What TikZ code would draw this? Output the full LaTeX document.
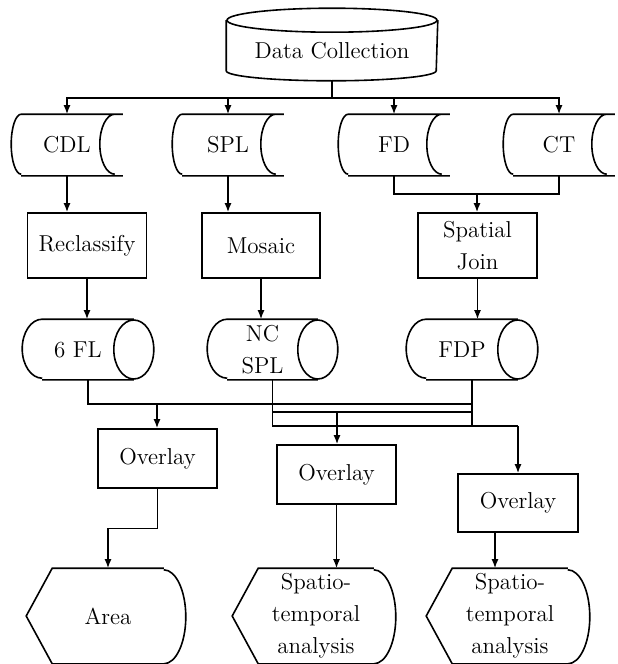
\documentclass[tikz,border=0pt]{standalone}
\usetikzlibrary{arrows.meta}
\usetikzlibrary{calc}

\begin{document}
\begin{tikzpicture}[x=0.5pt,y=0.5pt,line width=0.8pt,
	>={Latex[length=4.5pt,width=3.5pt]},
	every node/.style={font=\fontsize{11.5}{16}\selectfont, align=center, inner sep=0pt},
	stored/.style={rectangle, minimum width=55pt, minimum height=30pt},
	procbox/.style={rectangle, draw, minimum width=59.5pt, minimum height=32.5pt},
	drum/.style={rectangle, minimum width=55pt, minimum height=29.5pt},
	overlaybox/.style={rectangle, draw, minimum width=59.5pt, minimum height=29.5pt},
	result/.style={rectangle, minimum width=57pt, minimum height=47pt}]

	\useasboundingbox (0,0) rectangle (617,-664);

	\def\rxDrum{10pt} %end radius of the data drums
	\def\ryDrum{14.75pt}

	%source
	\node (dc) at (332,-50.5) [rectangle, minimum width=105pt, minimum height=29.5pt] {Data Collection};
	\draw (dc.north) ellipse [x radius=52.5pt, y radius=6pt];
	\draw (dc.north west) -- ([yshift=5pt]dc.south west)
		arc[start angle=180, end angle=360, x radius=52.5pt, y radius=5pt] -- (dc.north east);

	%stored layers
	\node[stored] (cdl) at (67,-145) {CDL};
	\node[stored] (spl) at (228,-145) {SPL};
	\node[stored] (fd) at (394,-145) {FD};
	\node[stored] (ct) at (559,-145) {CT};
	\foreach \n in {cdl,spl,fd,ct} {
		\draw ([xshift=5pt]\n.north west) -- (\n.north east)
			([xshift=5pt]\n.south west) -- (\n.south east)
			([xshift=5pt]\n.north west) arc[start angle=90, end angle=270, x radius=5pt, y radius=15pt]
			([xshift=-4pt]\n.north east) arc[start angle=90, end angle=270, x radius=7.5pt, y radius=15pt];
	}

	%processing
	\node[procbox] (recl) at (87,-245.5) {Reclassify};
	\node[procbox, minimum width=59pt] (mosaic) at (261,-245.5) {Mosaic};
	\node[procbox] (sjoin) at (477.5,-245.5) {Spatial\\Join};

	%drums
	\node[drum] (fl6) at (78,-349.5) {6 FL};
	\node[drum, minimum width=54.5pt] (ncspl) at (262.5,-349.5) {NC\\SPL};
	\node[drum] (fdp) at (462,-349.5) {FDP};
	\foreach \n in {fl6,ncspl,fdp} {
		\draw ([xshift=\rxDrum]\n.north west) -- (\n.north east)
			([xshift=\rxDrum]\n.south west) -- (\n.south east)
			([xshift=\rxDrum]\n.north west) arc[start angle=90, end angle=270, x radius=\rxDrum, y radius=\ryDrum]
			(\n.east) ellipse [x radius=\rxDrum, y radius=\ryDrum];
	}

	%overlays
	\node[overlaybox] (ov1) at (157.5,-458.5) {Overlay};
	\node[overlaybox] (ov2) at (336.5,-474.5) {Overlay};
	\node[overlaybox, minimum width=60pt, minimum height=29pt] (ov3) at (518,-503) {Overlay};

	%outputs
	\node[result, minimum width=55pt] (area) at (108,-616) {Area};
	\node[result] (sta1) at (316,-616) {Spatio-\\temporal\\analysis};
	\node[result] (sta2) at (510,-616) {Spatio-\\temporal\\analysis};
	\foreach \n in {area,sta1,sta2} {
		\draw (\n.north east) -- (\n.north west) -- ([xshift=-13pt]\n.west) -- (\n.south west) -- (\n.south east)
			arc[start angle=-90, end angle=90, x radius=11pt, y radius=23.5pt];
	}

	%junctions
	\coordinate (bus) at (332,-98);
	\coordinate (fdct) at (477,-194);
	\coordinate (j1) at (157,-404);
	\coordinate (j2) at (337,-412);
	\coordinate (j3) at (518,-426);
	\coordinate (o3) at ([xshift=-11.5pt]ov3.south);

	%connectors
	\draw (dc.south) -- (bus);
	\foreach \n in {cdl,spl,fd,ct}
		\draw[->] (bus) -| (\n.north);
	\draw[->] (cdl.south) -- (cdl.south |- recl.north);
	\draw[->] (spl.south) -- (spl.south |- mosaic.north);
	\draw (fd.south) |- (fdct);
	\draw (ct.south) |- (fdct);
	\draw[->] (fdct) -- (fdct |- sjoin.north);

	\draw[->] (recl.south) -- (recl.south |- fl6.north);
	\draw[->] (mosaic.south) -- (mosaic.south |- ncspl.north);
	\draw[->] (sjoin.south) -- (sjoin.south |- fdp.north);

	\draw ([xshift=5pt]fl6.south) |- (j1);
	\draw ([xshift=5pt]fdp.south) |- (j1);
	\draw[->] (j1) -- (j1 |- ov1.north);
	\draw ([xshift=5pt]ncspl.south) |- (j2);
	\draw ([xshift=5pt]fdp.south) |- (j2);
	\draw[->] (j2) -- (j2 |- ov2.north);
	\draw ([xshift=5pt]ncspl.south) |- (j3);
	\draw ([xshift=5pt]fdp.south) |- (j3);
	\draw[->] (j3) -- (j3 |- ov3.north);

	\draw[->] (ov1.south) |- ($(ov1.south)!0.5!(area.north)$) -| (area.north);
	\draw[->] (ov2.south) -- (ov2.south |- sta1.north);
	\draw[->] (o3) -- (o3 |- sta2.north);

\end{tikzpicture}
\end{document}
